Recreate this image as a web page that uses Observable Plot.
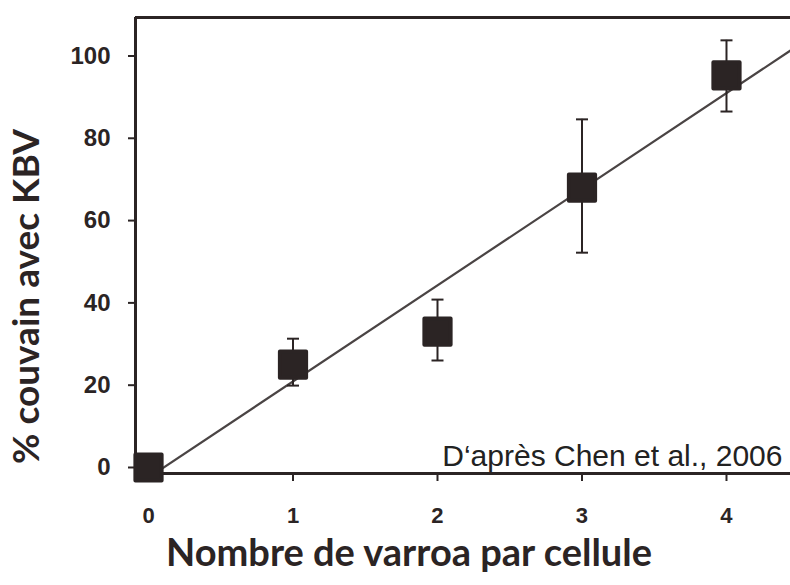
<!DOCTYPE html>
<html>
<head>
<meta charset="utf-8">
<script src="https://cdn.jsdelivr.net/npm/d3@7"></script>
<script src="https://cdn.jsdelivr.net/npm/@observablehq/plot@0.6"></script>
<style>
  html, body { margin: 0; padding: 0; background: #ffffff; }
  #chart svg { display: block; }
</style>
</head>
<body>
<div id="chart"></div>
<script>
// ---- data ----
const varroa = [0, 1, 2, 3, 4];                 // mites per cell
const kbvMean = [0, 25.0, 33.0, 68.0, 95.3];    // % brood with KBV
const kbvLow  = [0, 19.9, 26.0, 52.2, 86.5];    // lower error bar
const kbvHigh = [0, 31.3, 40.8, 84.6, 103.8];   // upper error bar
const xTicks = [0, 1, 2, 3, 4];
const yTicks = [0, 20, 40, 60, 80, 100];
const xLabel = "Nombre de varroa par cellule";
const yLabel = "% couvain avec KBV";
const caption = "D‘après Chen et al., 2006";

const ink = "#2b2424";
const xDomain = [-0.09, 4.443];
const yDomain = [-1.46, 109.35];

const rows = varroa.map((x, i) => ({x, y: kbvMean[i], lo: kbvLow[i], hi: kbvHigh[i]}));
const bars = rows.filter(d => d.hi !== d.lo);

// least-squares fit of the means, drawn across the plotted x range
const mx = d3.mean(varroa), my = d3.mean(kbvMean);
const slope = d3.sum(varroa, (x, i) => (x - mx) * (kbvMean[i] - my)) / d3.sum(varroa, x => (x - mx) ** 2);
const intercept = my - slope * mx;
const fit = [0, xDomain[1]].map(x => ({x, y: intercept + slope * x}));

const cap = { draw(ctx) { ctx.moveTo(-6, 0); ctx.lineTo(6, 0); } };

const chart = Plot.plot({
  width: 790,
  height: 585,
  marginLeft: 135,
  marginRight: 0,
  marginTop: 17,
  marginBottom: 112,
  style: {background: "#ffffff", color: ink},
  x: {domain: xDomain},
  y: {domain: yDomain},
  marks: [
    Plot.axisY({ticks: yTicks, tickFormat: "d", tickSize: 7, tickPadding: 18, fontSize: 24, fontWeight: 900,
      fontFamily: "Liberation Sans, Arial, sans-serif", strokeWidth: 2, stroke: ink, fill: ink, label: null}),
    Plot.axisX({ticks: xTicks, tickFormat: "d", tickSize: 8, tickPadding: 26, fontSize: 22, fontWeight: 900,
      fontFamily: "Liberation Sans, Arial, sans-serif", strokeWidth: 2, stroke: ink, fill: ink, label: null}),
    // frame (right side lies outside the picture)
    Plot.ruleX([xDomain[0]], {stroke: ink, strokeWidth: 3}),
    Plot.ruleY([yDomain[0], yDomain[1]], {stroke: ink, strokeWidth: 3}),
    // regression line
    Plot.line(fit, {x: "x", y: "y", stroke: "#4a4444", strokeWidth: 2.2, clip: true}),
    // error bars
    Plot.ruleX(bars, {x: "x", y1: "lo", y2: "hi", stroke: ink, strokeWidth: 2}),
    Plot.dot(bars, {x: "x", y: "lo", symbol: cap, stroke: ink, strokeWidth: 2}),
    Plot.dot(bars, {x: "x", y: "hi", symbol: cap, stroke: ink, strokeWidth: 2}),
    // means
    Plot.dot(rows, {x: "x", y: "y", symbol: "square", r: 14.8, fill: ink, stroke: ink,
      strokeWidth: 4, strokeLinejoin: "round"}),
    // caption
    Plot.text([caption], {frameAnchor: "bottom-right", lineAnchor: "bottom", textAnchor: "end",
      dx: -8, dy: -8, fontSize: 30, fontFamily: "Liberation Sans, Arial, sans-serif", fill: "#222"}),
    // axis titles
    Plot.text([xLabel], {frameAnchor: "bottom", lineAnchor: "middle", textAnchor: "middle", dx: -54, dy: 80,
      fontSize: 38, fontWeight: "bold", fontFamily: "Lato, Open Sans, sans-serif", fill: ink}),
    Plot.text([yLabel], {frameAnchor: "left", lineAnchor: "middle", textAnchor: "middle", rotate: -90, dx: -108, dy: 51,
      fontSize: 37, fontWeight: "bold", fontFamily: "Lato, Open Sans, sans-serif", fill: ink})
  ]
});
document.getElementById("chart").appendChild(chart);
</script>
</body>
</html>
